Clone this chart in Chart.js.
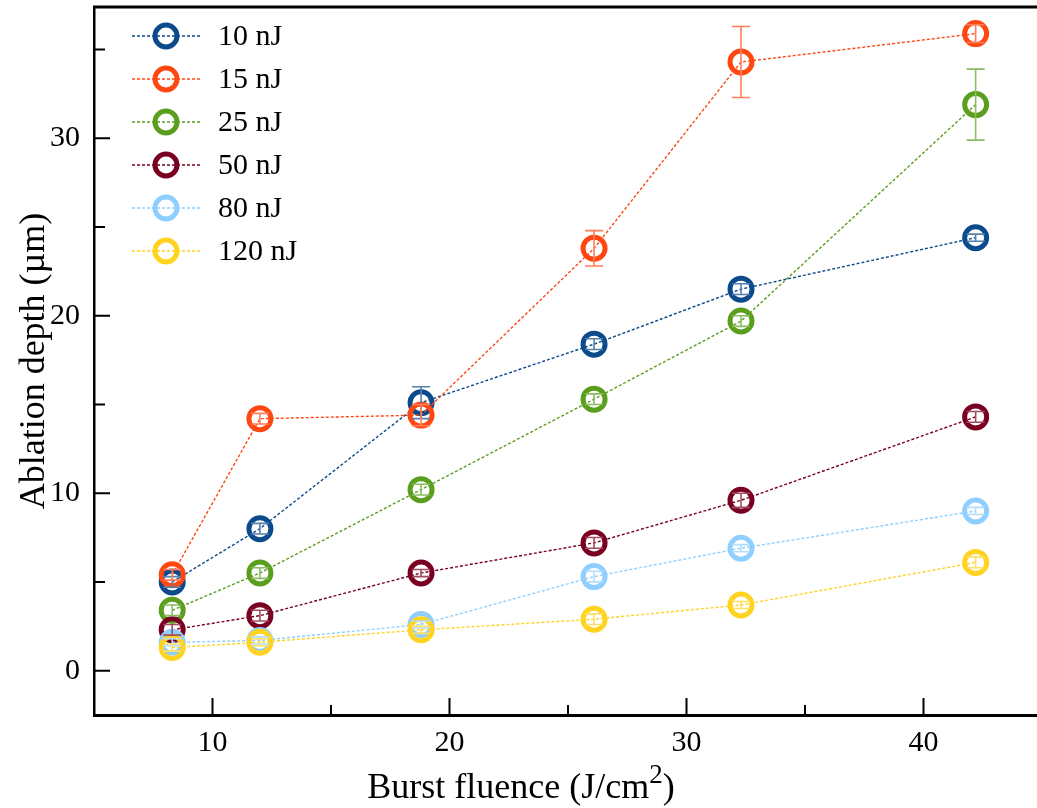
<!DOCTYPE html>
<html>
<head>
<meta charset="utf-8">
<script src="https://cdn.jsdelivr.net/npm/chart.js@4.4.1/dist/chart.umd.min.js"></script>
<style>
html, body { margin: 0; padding: 0; background: #fff; overflow: hidden; }
#wrap { width: 1042px; height: 808px; }
</style>
</head>
<body>
<div id="wrap"><canvas id="depthChart" width="1042" height="808"></canvas></div>
<script>
// burst fluence (J/cm2)
const fluence = [8.3, 12.0, 18.8, 26.1, 32.3, 42.2];
const seriesNames = ['10 nJ', '15 nJ', '25 nJ', '50 nJ', '80 nJ', '120 nJ'];
const seriesColors = ['#0b4a8b', '#ff4712', '#5a9e1d', '#7a0022', '#8fcfff', '#ffd31f'];

// ablation depth (um)
const depth10 = [5.0, 8.0, 15.1, 18.4, 21.5, 24.4];
const depth15 = [5.4, 14.2, 14.4, 23.8, 34.3, 35.9];
const depth25 = [3.4, 5.5, 10.2, 15.3, 19.7, 31.9];
const depth50 = [2.3, 3.1, 5.5, 7.2, 9.6, 14.3];
const depth80 = [1.6, 1.7, 2.6, 5.3, 6.9, 9.0];
const depth120 = [1.3, 1.6, 2.3, 2.9, 3.7, 6.1];

// error bars (+/-)
const err10 = [0.3, 0.3, 0.9, 0.3, 0.3, 0.2];
const err15 = [0.3, 0.3, 0.6, 1.0, 2.0, 0.5];
const err25 = [0.3, 0.3, 0.3, 0.3, 0.3, 2.0];
const err50 = [0.3, 0.3, 0.2, 0.3, 0.4, 0.3];
const err80 = [0.2, 0.2, 0.2, 0.3, 0.2, 0.2];
const err120 = [0.2, 0.2, 0.2, 0.3, 0.2, 0.3];

const xMajor = [10, 20, 30, 40];
const xMinor = [15, 25, 35];
const yMajor = [0, 10, 20, 30];
const yMinor = [5, 15, 25, 35];

const allDepths = [depth10, depth15, depth25, depth50, depth80, depth120];
const allErrors = [err10, err15, err25, err50, err80, err120];
const fontFamily = '"Liberation Serif", "Times New Roman", serif';

function tint(hex, amt) {
    const n = parseInt(hex.slice(1), 16);
    const r = (n >> 16) & 255, g = (n >> 8) & 255, b = n & 255;
    const mix = c => Math.round(c + (255 - c) * amt);
    return `rgb(${mix(r)}, ${mix(g)}, ${mix(b)})`;
}

const datasets = allDepths.map((vals, i) => ({
    label: seriesNames[i],
    data: vals.map((v, j) => ({ x: fluence[j], y: v })),
    errors: allErrors[i],
    borderColor: seriesColors[i],
    backgroundColor: 'rgba(255,255,255,0)',
    borderWidth: 1.4,
    borderDash: [3, 2],
    pointRadius: 11,
    pointBorderWidth: 5,
    pointBorderColor: seriesColors[i],
    pointBackgroundColor: 'rgba(255,255,255,0)',
    order: allDepths.length - i
}));

// error bars on top of the markers
const errorBars = {
    id: 'errorBars',
    afterDatasetsDraw(chart) {
        const { ctx, scales: { x, y } } = chart;
        chart.data.datasets.forEach(ds => {
            ctx.save();
            ctx.strokeStyle = tint(ds.borderColor, 0.3);
            ctx.lineWidth = 1.6;
            ds.data.forEach((p, j) => {
                const e = ds.errors[j];
                const px = x.getPixelForValue(p.x);
                const top = y.getPixelForValue(p.y + e);
                const bot = y.getPixelForValue(p.y - e);
                ctx.beginPath();
                ctx.moveTo(px, top); ctx.lineTo(px, bot);
                ctx.moveTo(px - 9, top); ctx.lineTo(px + 9, top);
                ctx.moveTo(px - 9, bot); ctx.lineTo(px + 9, bot);
                ctx.stroke();
            });
            ctx.restore();
        });
    }
};

// inward ticks, the top frame line and the x title with a real superscript
const frame = {
    id: 'frame',
    afterDraw(chart) {
        const { ctx, chartArea: a, scales: { x, y } } = chart;
        ctx.save();
        ctx.strokeStyle = '#000';
        ctx.lineWidth = 2;
        ctx.beginPath();
        xMajor.forEach(v => { const p = x.getPixelForValue(v); ctx.moveTo(p, a.bottom); ctx.lineTo(p, a.bottom - 17); });
        xMinor.forEach(v => { const p = x.getPixelForValue(v); ctx.moveTo(p, a.bottom); ctx.lineTo(p, a.bottom - 10); });
        yMajor.forEach(v => { const p = y.getPixelForValue(v); ctx.moveTo(a.left, p); ctx.lineTo(a.left + 16, p); });
        yMinor.forEach(v => { const p = y.getPixelForValue(v); ctx.moveTo(a.left, p); ctx.lineTo(a.left + 11, p); });
        ctx.stroke();
        ctx.lineWidth = 3;
        ctx.beginPath();
        ctx.moveTo(a.left - 1, a.top); ctx.lineTo(chart.width, a.top);
        ctx.stroke();

        const parts = [
            { t: 'Burst fluence (J/cm', size: 36, rise: 0 },
            { t: '2', size: 27, rise: 15 },
            { t: ')', size: 36, rise: 0 }
        ];
        let total = 0;
        parts.forEach(p => { ctx.font = p.size + 'px ' + fontFamily; p.w = ctx.measureText(p.t).width; total += p.w; });
        let tx = 521 - total / 2;
        ctx.fillStyle = '#000';
        ctx.textBaseline = 'alphabetic';
        parts.forEach(p => {
            ctx.font = p.size + 'px ' + fontFamily;
            ctx.fillText(p.t, tx, 798 - p.rise);
            tx += p.w;
        });
        ctx.restore();
    }
};

// legend: dotted line with marker, like the plot
const lineLegend = {
    id: 'lineLegend',
    afterDraw(chart) {
        const ctx = chart.ctx;
        chart.data.datasets.forEach((ds, i) => {
            const yy = 36 + i * 43;
            ctx.save();
            ctx.strokeStyle = ds.borderColor;
            ctx.lineWidth = ds.borderWidth;
            ctx.setLineDash(ds.borderDash);
            ctx.beginPath();
            ctx.moveTo(132, yy); ctx.lineTo(200, yy);
            ctx.stroke();
            ctx.setLineDash([]);
            ctx.lineWidth = ds.pointBorderWidth;
            ctx.beginPath();
            ctx.arc(166, yy, ds.pointRadius, 0, Math.PI * 2);
            ctx.stroke();
            ctx.fillStyle = '#000';
            ctx.font = '30px ' + fontFamily;
            ctx.textBaseline = 'middle';
            ctx.fillText(ds.label, 218, yy + 1);
            ctx.restore();
        });
    }
};

const ctx = document.getElementById('depthChart').getContext('2d');
new Chart(ctx, {
    type: 'line',
    data: { datasets: datasets },
    options: {
        responsive: false,
        animation: false,
        layout: { autoPadding: false, padding: { top: 7, left: 0, right: 0, bottom: 0 } },
        plugins: { legend: { display: false }, tooltip: { enabled: false } },
        scales: {
            x: {
                type: 'linear',
                min: 5,
                max: 45,
                afterFit(scale) {
                    scale.height = 93;
                    scale.paddingLeft = 0;
                    scale.paddingRight = 0;
                },
                afterBuildTicks(scale) { scale.ticks = xMajor.map(v => ({ value: v })); },
                grid: { display: false, drawTicks: false },
                border: { display: true, color: '#000', width: 3 },
                ticks: { color: '#000', padding: 10, font: { family: fontFamily, size: 30 }, maxRotation: 0 },
                title: { display: false }
            },
            y: {
                type: 'linear',
                min: -2.5,
                max: 37.4,
                afterFit(scale) {
                    scale.width = 94;
                    scale.paddingTop = 0;
                    scale.paddingBottom = 0;
                },
                afterBuildTicks(scale) { scale.ticks = yMajor.map(v => ({ value: v })); },
                grid: { display: false, drawTicks: false },
                border: { display: true, color: '#000', width: 2.5 },
                ticks: { color: '#000', padding: 14, font: { family: fontFamily, size: 30 } },
                title: {
                    display: true,
                    text: 'Ablation depth (µm)',
                    color: '#000',
                    padding: { top: 13, bottom: 0 },
                    font: { family: fontFamily, size: 36 }
                }
            }
        }
    },
    plugins: [errorBars, frame, lineLegend]
});
</script>
</body>
</html>
